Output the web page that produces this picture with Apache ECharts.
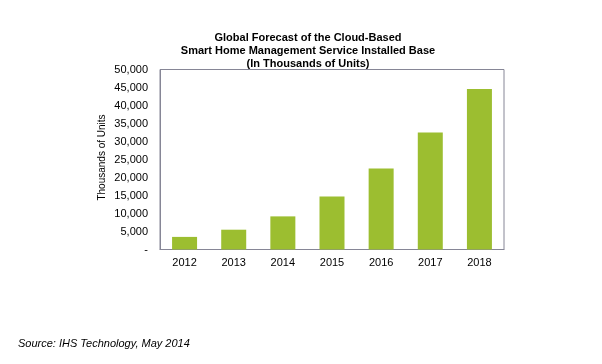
<!DOCTYPE html>
<html>
<head>
<meta charset="utf-8">
<script src="https://cdn.jsdelivr.net/npm/echarts@6/dist/echarts.min.js"></script>
<style>html,body{margin:0;padding:0;background:#fff}#c{width:602px;height:364px}</style>
</head>
<body>
<div id="c"></div>
<script>
const categories = ['2012', '2013', '2014', '2015', '2016', '2017', '2018'];
const installedBase = [3500, 5500, 9200, 14700, 22500, 32500, 44600];
const titleLines = ['Global Forecast of the Cloud-Based', 'Smart Home Management Service Installed Base', '(In Thousands of Units)'];
const yAxisTitle = 'Thousands of Units';
const sourceNote = 'Source: IHS Technology, May 2014';

const FONT = '"Liberation Sans", Arial, sans-serif';
const chart = echarts.init(document.getElementById('c'), null, {renderer: 'canvas'});
chart.setOption({
  animation: false,
  backgroundColor: '#fff',
  title: {
    text: titleLines.join('\n'),
    left: 303, top: 26, textAlign: 'center',
    textStyle: {fontFamily: FONT, fontSize: 11, fontWeight: 'bold', color: '#000', lineHeight: 13}
  },
  grid: {left: 160, right: 98, top: 69.5, bottom: 114.5, show: true, borderColor: '#868696', borderWidth: 1, backgroundColor: 'transparent'},
  xAxis: {
    type: 'category', data: categories,
    axisLine: {show: true, lineStyle: {color: '#868696'}},
    axisTick: {show: false},
    axisLabel: {fontFamily: FONT, fontSize: 11, color: '#000', margin: 8}
  },
  yAxis: {
    type: 'value', min: 0, max: 50000, interval: 5000,
    name: yAxisTitle, nameLocation: 'middle', nameRotate: 90, nameGap: 53,
    nameMoveOverlap: false,
    nameTextStyle: {fontFamily: FONT, fontSize: 10, color: '#000', padding: [0, 0, 0, 4]},
    axisLine: {show: true, lineStyle: {color: '#868696'}},
    axisTick: {show: false},
    splitLine: {show: false},
    axisLabel: {
      fontFamily: FONT, fontSize: 11, color: '#000', margin: 12,
      formatter: v => v === 0 ? '-' : v.toLocaleString('en-US')
    }
  },
  series: [{
    type: 'bar', data: installedBase, barWidth: 25,
    itemStyle: {color: '#9cbe30'}
  }],
  graphic: [{
    type: 'text', left: 18, top: 338,
    style: {text: sourceNote, fontFamily: FONT, fontSize: 11, fontStyle: 'italic', fill: '#000'}
  }]
});
</script>
</body>
</html>
